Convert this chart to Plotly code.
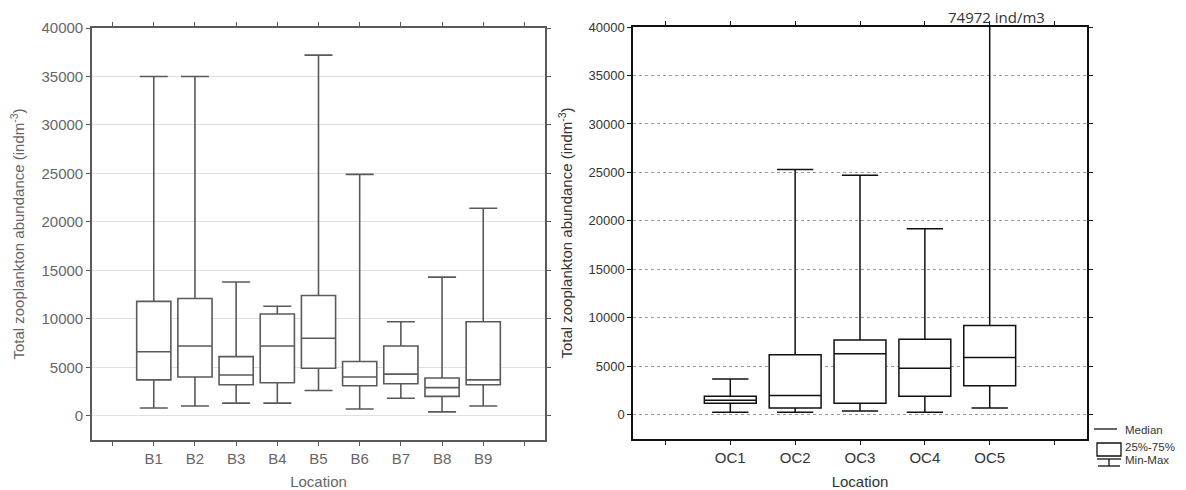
import numpy as np
import plotly.graph_objects as go

# ---------------- data ----------------
b_sites = ["B1", "B2", "B3", "B4", "B5", "B6", "B7", "B8", "B9"]
b_min = [800, 1000, 1300, 1300, 2600, 700, 1800, 400, 1000]
b_q1 = [3700, 4000, 3200, 3400, 4900, 3100, 3300, 2000, 3200]
b_median = [6600, 7200, 4200, 7200, 8000, 4000, 4300, 2900, 3700]
b_q3 = [11800, 12100, 6100, 10500, 12400, 5600, 7200, 3900, 9700]
b_max = [35000, 35000, 13800, 11300, 37200, 24900, 9700, 14300, 21400]

oc_sites = ["OC1", "OC2", "OC3", "OC4", "OC5"]
oc_min = [250, 250, 400, 250, 700]
oc_q1 = [1200, 700, 1200, 1900, 3000]
oc_median = [1500, 2000, 6300, 4800, 5900]
oc_q3 = [1900, 6200, 7700, 7800, 9200]
oc_max = [3700, 25300, 24700, 19200, 74972]

y_ticks = [0, 5000, 10000, 15000, 20000, 25000, 30000, 35000, 40000]
y_tick_text = [str(v) for v in y_ticks]
y_title = "Total zooplankton abundance (indm<sup>-3</sup>)"
x_title = "Location"
legend_labels = ["Median", "25%-75%", "Min-Max"]

# ---------------- figure ----------------
PAGE_W, PAGE_H = 1186, 490
OFF = 8  # default body margin of the html page
W, H = PAGE_W - OFF, PAGE_H - OFF
LEFT_COL = "#5a5a5a"
LEFT_TXT = "#666666"
RIGHT_COL = "#111111"
RIGHT_TXT = "#333333"

b_pos = np.arange(len(b_sites))
oc_pos = np.arange(len(oc_sites))

fig = go.Figure()
fig.add_trace(go.Box(
    x=b_pos, q1=b_q1, median=b_median, q3=b_q3,
    lowerfence=b_min, upperfence=b_max,
    width=0.83, whiskerwidth=0.82,
    fillcolor="white", line=dict(color=LEFT_COL, width=1.6),
    boxpoints=False, showlegend=False, xaxis="x", yaxis="y",
))
fig.add_trace(go.Box(
    x=oc_pos, q1=oc_q1, median=oc_median, q3=oc_q3,
    lowerfence=oc_min, upperfence=oc_max,
    width=0.8, whiskerwidth=0.7,
    fillcolor="white", line=dict(color=RIGHT_COL, width=1.5),
    boxpoints=False, showlegend=False, xaxis="x2", yaxis="y2",
))

def fx(p):
    return (p - OFF) / W

def fy(p):
    return 1 - (p - OFF) / H

FONT = "Liberation Sans, Arial"

fig.update_layout(
    width=W, height=H,
    margin=dict(l=0, r=0, t=0, b=0),
    paper_bgcolor="white", plot_bgcolor="white",
    showlegend=False,
    xaxis=dict(
        domain=[fx(92), fx(545)], range=[-1.5, len(b_sites) + 0.5],
        tickmode="array", tickvals=list(range(-1, len(b_sites) + 1)),
        ticktext=[""] + b_sites + [""],
        showline=True, linecolor=LEFT_COL, linewidth=1.6, mirror="ticks",
        ticks="outside", ticklen=4, tickcolor=LEFT_COL,
        showgrid=False, zeroline=False, automargin=False,
        tickfont=dict(family=FONT, size=15, color=LEFT_TXT),
        title=dict(text=x_title, font=dict(family=FONT, size=15, color=LEFT_TXT), standoff=14),
    ),
    yaxis=dict(
        domain=[fy(440), fy(28)], range=[-2500, 40000],
        tickmode="array", tickvals=y_ticks, ticktext=y_tick_text,
        showline=True, linecolor=LEFT_COL, linewidth=1.6, mirror="ticks",
        ticks="outside", ticklen=4, tickcolor=LEFT_COL,
        showgrid=True, gridcolor="#e0e0e0", gridwidth=1, zeroline=False, automargin=False,
        tickfont=dict(family=FONT, size=15, color=LEFT_TXT),
        title=dict(text=y_title, font=dict(family=FONT, size=15, color=LEFT_TXT), standoff=13),
    ),
    xaxis2=dict(
        domain=[fx(633), fx(1087)], range=[-1.5, len(oc_sites) + 0.5], anchor="y2",
        tickmode="array", tickvals=list(range(-1, len(oc_sites) + 1)),
        ticktext=[""] + oc_sites + [""],
        showline=True, linecolor=RIGHT_COL, linewidth=1.5, mirror="ticks",
        ticks="outside", ticklen=4, tickcolor=RIGHT_COL,
        showgrid=False, zeroline=False, automargin=False,
        tickfont=dict(family=FONT, size=15, color=RIGHT_TXT),
        title=dict(text=x_title, font=dict(family=FONT, size=15, color=RIGHT_TXT), standoff=14),
    ),
    yaxis2=dict(
        domain=[fy(439), fy(27)], range=[-2500, 40000], anchor="x2",
        tickmode="array", tickvals=y_ticks, ticktext=y_tick_text,
        showline=True, linecolor=RIGHT_COL, linewidth=1.5, mirror="ticks",
        ticks="outside", ticklen=4, tickcolor=RIGHT_COL,
        showgrid=True, gridcolor="#9a9a9a", gridwidth=1, griddash="dot", zeroline=False,
        automargin=False,
        tickfont=dict(family=FONT, size=13, color=RIGHT_TXT),
        title=dict(text=y_title, font=dict(family=FONT, size=15, color=RIGHT_TXT), standoff=12),
    ),
)

# annotation for the off-scale maximum
i_big = int(np.argmax(oc_max))
fig.add_annotation(
    x=oc_pos[i_big], y=40000, xref="x2", yref="y2",
    text=f"{oc_max[i_big]} ind/m3", showarrow=False,
    yanchor="bottom", xanchor="center", xshift=7, yshift=-1, borderpad=0,
    font=dict(family="Open Sans", size=15, color="#333333"),
)

# custom legend (right bottom)
lc = RIGHT_COL
fig.add_shape(type="line", xref="paper", yref="paper",
              x0=fx(1094), x1=fx(1117), y0=fy(429), y1=fy(429), line=dict(color=lc, width=1.3))
fig.add_shape(type="rect", xref="paper", yref="paper",
              x0=fx(1097), x1=fx(1121), y0=fy(456), y1=fy(443), line=dict(color=lc, width=1.3), fillcolor="white")
fig.add_shape(type="line", xref="paper", yref="paper",
              x0=fx(1097), x1=fx(1121), y0=fy(459), y1=fy(459), line=dict(color=lc, width=1.3))
fig.add_shape(type="line", xref="paper", yref="paper",
              x0=fx(1109), x1=fx(1109), y0=fy(459), y1=fy(466), line=dict(color=lc, width=1.3))
fig.add_shape(type="line", xref="paper", yref="paper",
              x0=fx(1098), x1=fx(1120), y0=fy(466), y1=fy(466), line=dict(color=lc, width=1.3))
for lab, py in zip(legend_labels, [430, 447, 460]):
    fig.add_annotation(x=fx(1124), y=fy(py), xref="paper", yref="paper",
                       text=lab, showarrow=False, xanchor="left", yanchor="middle",
                       borderpad=0,
                       font=dict(family=FONT, size=11.5, color=RIGHT_TXT))

fig.write_html("out.html")
